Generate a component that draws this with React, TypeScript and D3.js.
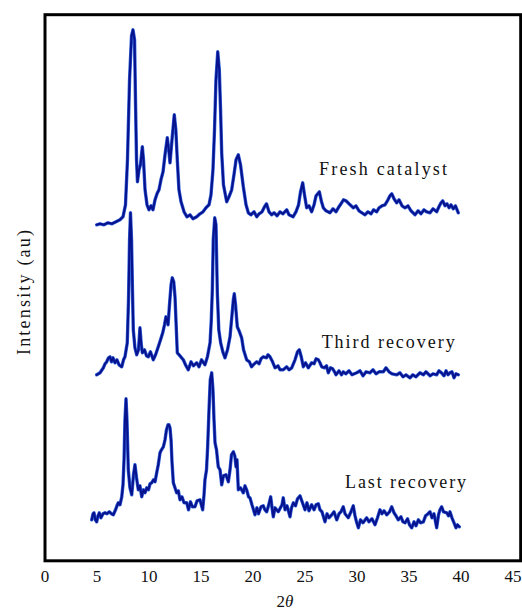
import * as d3 from 'd3'

// XRD patterns, [2theta, intensity (au, stacked)]
const freshCatalyst: [number, number][] = [
  [4.97, 336], [5.29, 337], [5.67, 336], [6.06, 338], [6.44, 337], [6.83, 339], [7.21, 341], [7.5, 344],
  [7.74, 356], [7.93, 401], [8.13, 481], [8.32, 525], [8.46, 531], [8.61, 521], [8.7, 461], [8.8, 401],
  [8.89, 379], [9.04, 391], [9.18, 396], [9.36, 414], [9.47, 401], [9.62, 371], [9.81, 356], [10.0, 351],
  [10.19, 355], [10.38, 351], [10.58, 361], [10.77, 367], [10.96, 371], [11.15, 381], [11.35, 389], [11.54, 406],
  [11.76, 423], [11.9, 411], [12.02, 398], [12.21, 421], [12.43, 446], [12.58, 431], [12.72, 401], [12.88, 371],
  [13.08, 359], [13.37, 349], [13.65, 344], [13.94, 346], [14.23, 342], [14.59, 344], [14.9, 347], [15.19, 349],
  [15.48, 353], [15.77, 356], [15.96, 366], [16.15, 391], [16.3, 431], [16.44, 481], [16.61, 509], [16.76, 491],
  [16.88, 451], [16.99, 408], [17.16, 376], [17.47, 359], [17.69, 364], [17.95, 371], [18.17, 386], [18.37, 401],
  [18.59, 406], [18.8, 396], [19.07, 374], [19.33, 356], [19.55, 348], [19.81, 346], [20.1, 349], [20.36, 344],
  [20.58, 347], [20.87, 349], [21.11, 354], [21.3, 357], [21.54, 349], [21.8, 346], [22.02, 348], [22.31, 345],
  [22.6, 349], [22.88, 347], [23.24, 351], [23.46, 346], [23.85, 344], [24.13, 349], [24.38, 356], [24.57, 369],
  [24.78, 378], [24.95, 366], [25.16, 353], [25.38, 355], [25.64, 349], [25.87, 356], [26.06, 365], [26.38, 369],
  [26.59, 359], [26.76, 353], [27.02, 350], [27.4, 348], [27.69, 352], [27.98, 349], [28.2, 353], [28.46, 357],
  [28.7, 361], [28.94, 360], [29.23, 357], [29.64, 353], [29.9, 355], [30.19, 350], [30.48, 348], [30.77, 346],
  [31.06, 349], [31.35, 347], [31.59, 351], [31.89, 349], [32.12, 353], [32.4, 355], [32.69, 356], [32.98, 361],
  [33.17, 365], [33.34, 367], [33.56, 362], [33.82, 358], [34.04, 361], [34.33, 355], [34.62, 353], [34.9, 355],
  [35.19, 350], [35.58, 346], [35.87, 350], [36.15, 347], [36.44, 351], [36.7, 349], [37.02, 348], [37.31, 352],
  [37.66, 349], [37.88, 354], [38.08, 358], [38.24, 360], [38.46, 355], [38.65, 357], [38.85, 353], [39.04, 356],
  [39.26, 352], [39.47, 355], [39.74, 348],
]

const thirdRecovery: [number, number][] = [
  [4.97, 186], [5.29, 188], [5.61, 193], [5.77, 197], [5.93, 199], [6.11, 203], [6.25, 204], [6.39, 199],
  [6.54, 203], [6.73, 198], [6.92, 201], [7.12, 196], [7.38, 194], [7.55, 201], [7.69, 204], [7.91, 218],
  [8.03, 261], [8.13, 321], [8.22, 348], [8.32, 321], [8.41, 271], [8.49, 231], [8.65, 213], [8.82, 206],
  [8.99, 211], [9.13, 233], [9.26, 216], [9.36, 208], [9.57, 211], [9.76, 205], [9.93, 204], [10.14, 209],
  [10.41, 201], [10.63, 206], [10.89, 214], [11.11, 221], [11.32, 228], [11.49, 236], [11.63, 244], [11.83, 236],
  [11.97, 256], [12.12, 276], [12.24, 283], [12.38, 279], [12.5, 264], [12.61, 236], [12.72, 208], [12.98, 205],
  [13.3, 201], [13.51, 196], [13.78, 191], [14.04, 199], [14.28, 195], [14.59, 198], [14.81, 194], [15.05, 201],
  [15.38, 196], [15.62, 204], [15.87, 218], [15.99, 241], [16.09, 271], [16.18, 321], [16.32, 343], [16.44, 336],
  [16.57, 268], [16.71, 231], [16.89, 218], [17.1, 209], [17.31, 203], [17.55, 211], [17.79, 224], [17.98, 246],
  [18.11, 261], [18.2, 267], [18.32, 256], [18.49, 234], [18.7, 229], [18.91, 223], [19.09, 211], [19.39, 201],
  [19.66, 199], [19.86, 194], [20.03, 196], [20.36, 199], [20.58, 197], [20.77, 202], [20.99, 204], [21.3, 203],
  [21.44, 206], [21.63, 204], [21.88, 199], [22.12, 193], [22.4, 195], [22.6, 191], [22.91, 191], [23.24, 194],
  [23.46, 191], [23.72, 193], [24.04, 201], [24.28, 209], [24.45, 211], [24.64, 204], [24.84, 194], [25.05, 198],
  [25.32, 193], [25.64, 198], [25.87, 197], [26.06, 202], [26.28, 201], [26.44, 198], [26.61, 194], [26.88, 193],
  [27.07, 195], [27.24, 188], [27.45, 193], [27.66, 192], [27.84, 189], [27.98, 186], [28.27, 190], [28.51, 186],
  [28.68, 189], [28.94, 187], [29.23, 190], [29.52, 186], [29.97, 188], [30.29, 190], [30.58, 185], [30.87, 189],
  [31.25, 188], [31.54, 191], [31.83, 187], [32.12, 189], [32.53, 189], [32.79, 193], [33.08, 189], [33.37, 187],
  [33.82, 186], [34.13, 188], [34.42, 184], [34.71, 186], [35.1, 183], [35.38, 186], [35.67, 184], [36.06, 188],
  [36.38, 186], [36.63, 189], [37.02, 185], [37.31, 187], [37.66, 186], [37.88, 190], [38.13, 188], [38.37, 185],
  [38.56, 190], [38.75, 186], [38.94, 188], [39.13, 189], [39.33, 183], [39.52, 187], [39.74, 186],
]

const lastRecovery: [number, number][] = [
  [4.49, 41], [4.62, 47], [4.71, 48], [4.84, 41], [4.97, 39], [5.1, 45], [5.22, 48], [5.38, 43],
  [5.58, 47], [5.77, 48], [5.96, 47], [6.18, 49], [6.39, 47], [6.57, 46], [6.78, 51], [6.92, 55],
  [7.05, 58], [7.21, 56], [7.38, 64], [7.5, 76], [7.6, 101], [7.69, 141], [7.79, 162], [7.88, 141],
  [8.01, 91], [8.17, 73], [8.34, 66], [8.51, 86], [8.65, 96], [8.8, 83], [8.97, 71], [9.13, 75],
  [9.3, 64], [9.47, 71], [9.62, 68], [9.78, 73], [9.95, 71], [10.1, 77], [10.26, 78], [10.43, 81],
  [10.58, 79], [10.74, 88], [10.89, 96], [11.06, 108], [11.2, 111], [11.38, 114], [11.54, 121], [11.68, 131],
  [11.83, 136], [11.92, 136], [12.02, 133], [12.12, 121], [12.21, 99], [12.34, 78], [12.5, 73], [12.66, 68],
  [12.82, 70], [12.98, 61], [13.17, 64], [13.37, 58], [13.63, 58], [13.8, 51], [13.99, 59], [14.18, 54],
  [14.42, 54], [14.62, 60], [14.9, 61], [15.16, 51], [15.29, 66], [15.38, 81], [15.53, 91], [15.64, 114],
  [15.77, 151], [15.89, 181], [16.03, 188], [16.15, 171], [16.25, 141], [16.35, 118], [16.49, 111], [16.66, 94],
  [16.83, 91], [16.99, 76], [17.16, 85], [17.4, 86], [17.63, 79], [17.79, 91], [17.93, 106], [18.11, 109],
  [18.25, 105], [18.37, 94], [18.46, 101], [18.59, 71], [18.8, 73], [19.07, 68], [19.23, 75], [19.39, 71],
  [19.57, 64], [19.71, 63], [19.9, 56], [20.05, 51], [20.19, 46], [20.38, 53], [20.53, 47], [20.77, 54],
  [20.99, 55], [21.15, 51], [21.32, 49], [21.49, 55], [21.7, 64], [21.83, 53], [21.95, 44], [22.12, 53],
  [22.43, 49], [22.64, 53], [22.79, 56], [22.91, 63], [23.08, 51], [23.27, 55], [23.56, 44], [23.7, 53],
  [23.88, 58], [24.09, 55], [24.28, 62], [24.52, 65], [24.76, 58], [25.0, 51], [25.19, 58], [25.38, 50],
  [25.64, 56], [25.87, 51], [26.06, 56], [26.28, 57], [26.44, 51], [26.63, 49], [26.92, 39], [27.12, 47],
  [27.31, 43], [27.57, 46], [27.79, 49], [28.05, 41], [28.27, 47], [28.46, 49], [28.68, 54], [28.85, 47],
  [29.16, 43], [29.38, 48], [29.64, 55], [29.81, 45], [29.95, 39], [30.13, 33], [30.34, 41], [30.58, 38],
  [30.93, 43], [31.15, 39], [31.44, 42], [31.73, 36], [31.97, 43], [32.21, 51], [32.4, 47], [32.6, 50],
  [32.86, 46], [33.13, 49], [33.34, 54], [33.56, 48], [33.75, 45], [33.97, 41], [34.23, 44], [34.42, 39],
  [34.62, 38], [34.86, 42], [35.05, 36], [35.26, 33], [35.48, 39], [35.67, 35], [35.9, 41], [36.11, 38],
  [36.38, 39], [36.59, 45], [36.83, 47], [37.02, 49], [37.21, 43], [37.4, 47], [37.66, 33], [37.84, 46],
  [37.98, 51], [38.14, 54], [38.32, 49], [38.63, 48], [38.8, 45], [38.94, 49], [39.13, 43], [39.33, 38],
  [39.52, 33], [39.66, 36], [39.84, 34],
]

const xTicks = [0, 5, 10, 15, 20, 25, 30, 35, 40, 45]

// label text, where it sits (2theta, au) and how wide it is in px
const labels = [
  { text: 'Fresh catalyst', at: [26.35, 386], len: 128 },
  { text: 'Third recovery', at: [26.6, 213], len: 133 },
  { text: 'Last recovery', at: [28.85, 72.5], len: 121 },
]

const series = [freshCatalyst, thirdRecovery, lastRecovery]

export default function App() {
  const width = 522
  const height = 612
  const frame = { left: 45, top: 14.7, right: 520.7, bottom: 560.8 }

  const x = d3.scaleLinear().domain([0, 45]).range([45, 513])
  const y = d3.scaleLinear().domain([0, 546]).range([frame.bottom, frame.bottom - 546])

  const line = d3
    .line<[number, number]>()
    .x((d) => x(d[0]))
    .y((d) => y(d[1]))

  const font = '"Liberation Serif", "DejaVu Serif", serif'

  return (
    <svg
      width={width}
      height={height}
      style={{ position: 'absolute', left: 0, top: 0, background: '#fff' }}
      fontFamily={font}
    >
      <g className="plot-area" fill="none" strokeLinejoin="round" strokeLinecap="round">
        {series.map((s, i) => (
          <g key={i}>
            <path d={line(s) ?? ''} stroke="#3563d8" strokeWidth={3.4} />
            <path d={line(s) ?? ''} stroke="#07128e" strokeWidth={2.1} />
          </g>
        ))}
      </g>

      <rect
        x={frame.left}
        y={frame.top}
        width={frame.right - frame.left}
        height={frame.bottom - frame.top}
        fill="none"
        stroke="#000"
        strokeWidth={3}
      />

      <g className="x-axis" fontSize={17} fill="#111" textAnchor="middle">
        {xTicks.map((t) => (
          <text key={t} x={x(t)} y={582}>
            {t}
          </text>
        ))}
        <text x={285} y={607}>
          2<tspan fontStyle="italic">θ</tspan>
        </text>
      </g>

      <text
        transform="translate(29.5,292.5) rotate(-90)"
        textAnchor="middle"
        fontSize={18}
        fill="#111"
        textLength={125}
        lengthAdjust="spacing"
      >
        Intensity (au)
      </text>

      <g fontSize={18} fill="#111">
        {labels.map((l) => (
          <text key={l.text} x={x(l.at[0])} y={y(l.at[1])} textLength={l.len} lengthAdjust="spacing">
            {l.text}
          </text>
        ))}
      </g>
    </svg>
  )
}
